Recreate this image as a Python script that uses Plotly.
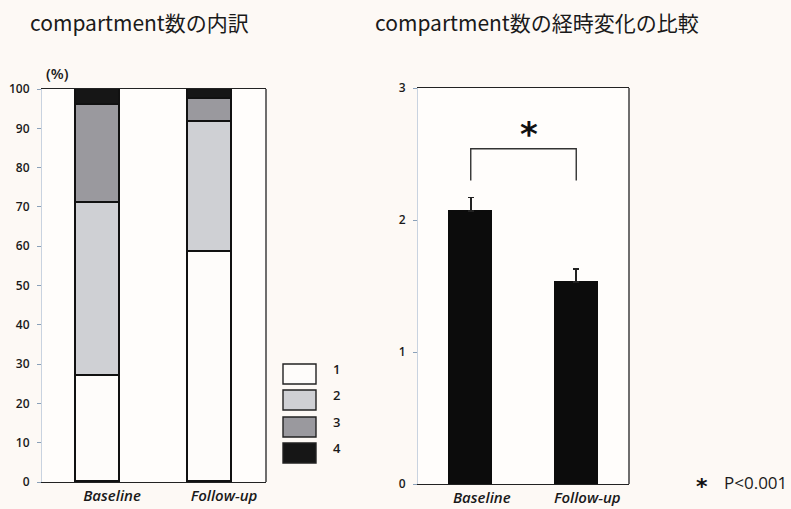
import plotly.graph_objects as go

# Data
groups = ["Baseline", "Follow-up"]
compartments = ["1", "2", "3", "4"]
share_1 = [27.0, 58.5]
share_2 = [44.0, 33.0]
share_3 = [25.0, 6.0]
share_4 = [4.0, 2.5]
shares = [share_1, share_2, share_3, share_4]
fills = ["#fefcfa", "#cfd0d4", "#9a999e", "#161616"]

mean_count = [2.07, 1.53]
sem_count = [0.10, 0.10]
bracket_y = [2.30, 2.54, 2.54, 2.30]
star_y = 2.65

left_ticks = list(range(0, 101, 10))
right_ticks = [0, 1, 2, 3]

W, H = 791, 509
BG = "#fdf9f5"
FONT = "Noto Sans CJK JP, Noto Sans, sans-serif"
LATIN = "Open Sans, sans-serif"


def px(x):
    return x / W


def py(y):
    return 1 - y / H


fig = go.Figure()

# Stacked composition bars
for name, vals, col in zip(compartments, shares, fills):
    fig.add_trace(go.Bar(
        x=groups, y=vals, name=name, marker=dict(color=col, line=dict(color="#111111", width=1.6)),
        width=0.39, xaxis="x", yaxis="y", showlegend=False,
    ))

# Mean compartment count with upper error bars
fig.add_trace(go.Bar(
    x=groups, y=mean_count, marker=dict(color="#0c0c0c", line=dict(color="#0c0c0c", width=1)),
    width=0.41, xaxis="x2", yaxis="y2", showlegend=False,
    error_y=dict(type="data", symmetric=False, array=sem_count, arrayminus=[0, 0],
                 color="#222222", thickness=1.8, width=3),
))

# Significance bracket
fig.add_trace(go.Scatter(
    x=[groups[0], groups[0], groups[1], groups[1]], y=bracket_y, mode="lines",
    line=dict(color="#333333", width=1.4), xaxis="x2", yaxis="y2", showlegend=False,
    hoverinfo="skip",
))

xcommon = dict(showgrid=False, zeroline=False, linecolor="#222222", linewidth=1.3,
               mirror=True, showline=True, ticks="", range=[-0.5, 1.5], automargin=False,
               ticklabelstandoff=0,
               tickfont=dict(size=15, family=LATIN, color="#1a1a1a", weight=600, style="italic"))
ycommon = dict(showgrid=False, zeroline=False, linecolor="#c9d3e0", linewidth=1.2,
               mirror=False, showline=True, ticks="outside", ticklen=4, tickcolor="#8aa0b8",
               ticklabelstandoff=5, automargin=False,
               tickfont=dict(size=12, family=LATIN, color="#1a1a1a", weight=600))

fig.update_layout(
    template="none",
    width=W, height=H, margin=dict(l=0, r=0, t=0, b=0, pad=0), autosize=False,
    paper_bgcolor=BG, plot_bgcolor="#fffdfb", barmode="stack", bargap=0,
    font=dict(family=FONT, color="#222222"),
    xaxis=dict(domain=[px(42), px(266)], anchor="y", ticklabelshift=14, **xcommon),
    yaxis=dict(domain=[py(482), py(89)], anchor="x", range=[0, 100], tickvals=left_ticks, **ycommon),
    xaxis2=dict(domain=[px(418), px(629)], anchor="y2", ticklabelshift=11, **xcommon),
    yaxis2=dict(domain=[py(484), py(88)], anchor="x2", range=[0, 3], tickvals=right_ticks, **ycommon),
)

annotations = [
    dict(text="compartment数の内訳", x=px(28), y=py(22), xref="paper", yref="paper",
         xanchor="left", yanchor="middle", showarrow=False, font=dict(size=21, color="#1a1a1a")),
    dict(text="compartment数の経時変化の比較", x=px(373), y=py(22), xref="paper", yref="paper",
         xanchor="left", yanchor="middle", showarrow=False, font=dict(size=21, color="#1a1a1a")),
    dict(text="(%)", x=px(57), y=py(73), xref="paper", yref="paper",
         xanchor="center", yanchor="middle", showarrow=False,
         font=dict(size=15, family=LATIN, color="#1a1a1a", weight=600)),
    dict(text="*", x=0.5, y=star_y, xref="x2", yref="y2", xanchor="center", yanchor="middle",
         xshift=5, showarrow=False,
         font=dict(size=34, family="DejaVu Sans, sans-serif", color="#111111", weight=700)),
    dict(text="*", x=px(702), y=py(486), xref="paper", yref="paper",
         xanchor="center", yanchor="middle", showarrow=False,
         font=dict(size=22, family="DejaVu Sans, sans-serif", color="#111111", weight=700)),
    dict(text="P<0.001", x=px(789), y=py(482), xref="paper", yref="paper",
         xanchor="right", yanchor="middle", showarrow=False,
         font=dict(size=17, family=LATIN, color="#1a1a1a")),
]

shapes = []
# Dark right-hand frame edge on both panels
for xa, ya in (("x", "y"), ("x2", "y2")):
    shapes.append(dict(type="line", xref=f"{xa} domain", yref=f"{ya} domain",
                       x0=1, x1=1, y0=0, y1=1, line=dict(color="#222222", width=1.3)))

# Legend swatches
legend_rows = [374, 400, 427, 453]
for name, col, yy in zip(compartments, fills, legend_rows):
    shapes.append(dict(type="rect", xref="paper", yref="paper",
                       x0=px(283), x1=px(316), y0=py(yy + 10), y1=py(yy - 10),
                       fillcolor=col, line=dict(color="#222222", width=1.4)))
    annotations.append(dict(text=name, x=px(331), y=py(yy - 5), xref="paper", yref="paper",
                            xanchor="left", yanchor="middle", showarrow=False,
                            font=dict(size=13, family=LATIN, color="#1a1a1a", weight=600)))

fig.update_layout(annotations=annotations, shapes=shapes)

fig.write_html("out.html")
